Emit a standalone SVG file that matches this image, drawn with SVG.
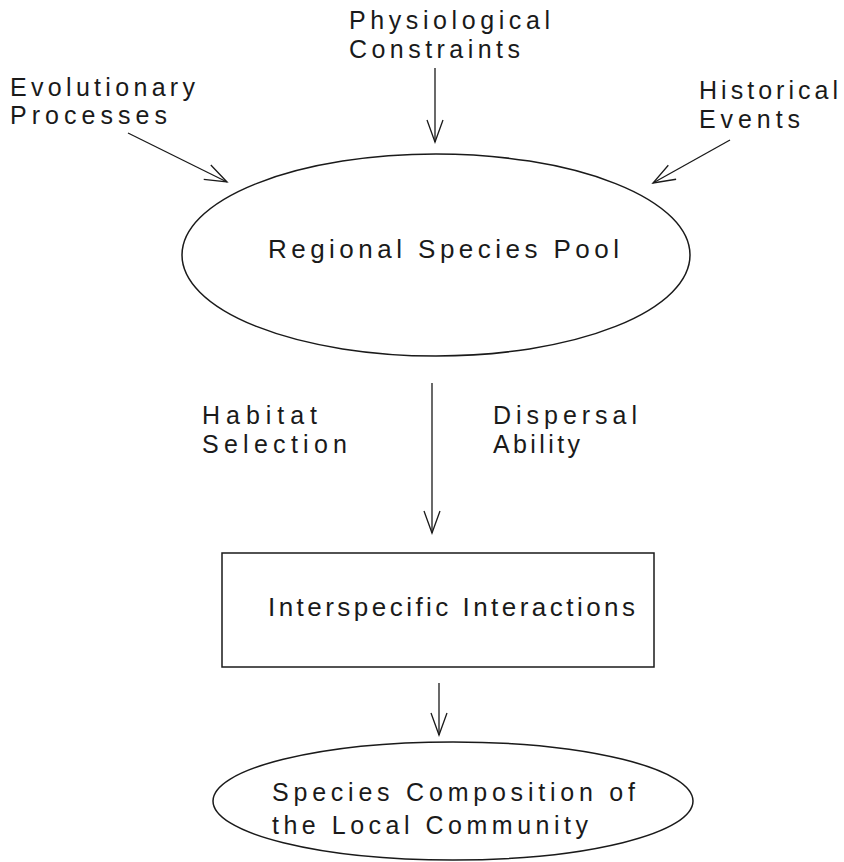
<svg xmlns="http://www.w3.org/2000/svg" width="844" height="862" viewBox="0 0 844 862">
<style>
text{font-family:"Liberation Sans",Arial,sans-serif;font-size:25px;fill:#1a1a1a}
.big{font-size:26px}
.shape{fill:none;stroke:#1a1a1a;stroke-width:1.5}
.conn line{stroke:#1a1a1a;stroke-width:1.3;marker-end:url(#arr)}
</style>
<defs>
<marker id="arr" markerUnits="userSpaceOnUse" markerWidth="30" markerHeight="20" viewBox="-24 -10 26 20" refX="0" refY="0" orient="auto">
<path d="M-22,-8 L0,0 L-22,8" fill="none" stroke="#1a1a1a" stroke-width="1.3"/>
</marker>
</defs>
<rect width="844" height="862" fill="#fff"/>
<g id="physiological"><text x="349" y="29" textLength="201" lengthAdjust="spacing">Physiological</text><text x="349" y="58" textLength="171" lengthAdjust="spacing">Constraints</text></g>
<g id="evolutionary"><text x="10" y="96" textLength="185" lengthAdjust="spacing">Evolutionary</text><text x="10" y="124" textLength="157" lengthAdjust="spacing">Processes</text></g>
<g id="historical"><text x="699" y="99" textLength="139" lengthAdjust="spacing">Historical</text><text x="699" y="128" textLength="101" lengthAdjust="spacing">Events</text></g>
<g id="pool"><ellipse class="shape" cx="436" cy="255" rx="254" ry="101"/><text class="big" x="268" y="258" textLength="351" lengthAdjust="spacing">Regional Species Pool</text></g>
<g id="habitat"><text x="202" y="424" textLength="115" lengthAdjust="spacing">Habitat</text><text x="202" y="453" textLength="145" lengthAdjust="spacing">Selection</text></g>
<g id="dispersal"><text x="493" y="424" textLength="144" lengthAdjust="spacing">Dispersal</text><text x="493" y="453" textLength="87" lengthAdjust="spacing">Ability</text></g>
<g id="interactions"><rect class="shape" x="222" y="553" width="432" height="114"/><text class="big" x="268" y="616" textLength="367" lengthAdjust="spacing">Interspecific Interactions</text></g>
<g id="composition"><ellipse class="shape" cx="453" cy="801" rx="240" ry="59"/><text x="272" y="801" textLength="363" lengthAdjust="spacing">Species Composition of</text><text x="272" y="834" textLength="316" lengthAdjust="spacing">the Local Community</text></g>
<g id="connectors" class="conn">
<line x1="435" y1="68" x2="435" y2="142"/>
<line x1="128" y1="133" x2="227" y2="182"/>
<line x1="730" y1="140" x2="653" y2="183"/>
<line x1="432" y1="383" x2="432" y2="533"/>
<line x1="439" y1="683" x2="439" y2="735"/>
</g>
</svg>
